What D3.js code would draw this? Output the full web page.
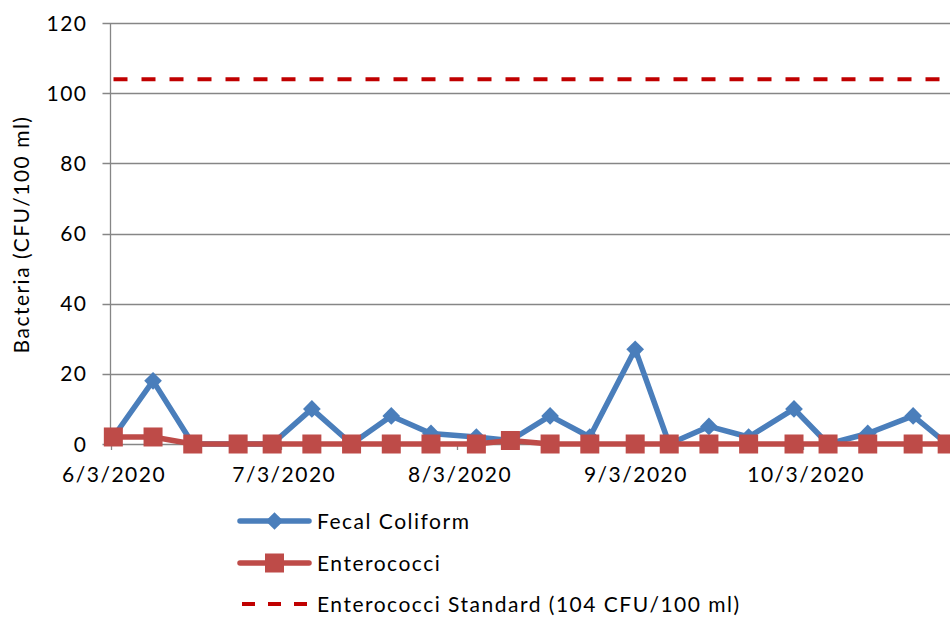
<!DOCTYPE html>
<html>
<head>
<meta charset="utf-8">
<script src="https://cdn.jsdelivr.net/npm/d3@7"></script>
<style>
  html, body { margin: 0; padding: 0; background: #fff; }
  svg text { font-family: Lato, "Open Sans", sans-serif; fill: #000; }
</style>
</head>
<body>
<svg id="chart" width="950" height="620"></svg>
<script>
// ---- data ----
const sampleDates = ["6/3/2020","6/10/2020","6/17/2020","6/25/2020","7/1/2020","7/8/2020","7/15/2020","7/22/2020","7/29/2020","8/6/2020","8/12/2020","8/19/2020","8/26/2020","9/3/2020","9/9/2020","9/16/2020","9/23/2020","10/1/2020","10/7/2020","10/14/2020","10/22/2020","10/28/2020"];
const fecalColiform = [2,18,0,0,0,10,0,8,3,2,1,8,2,27,0,5,2,10,0,3,8,0];
const enterococci   = [2,2,0,0,0,0,0,0,0,0,1,0,0,0,0,0,0,0,0,0,0,0];
const standardValue = 104;
const xTickLabels = ["6/3/2020","7/3/2020","8/3/2020","9/3/2020","10/3/2020"];
const yTicks = [0,20,40,60,80,100,120];
const axisStart = "6/3/2020";
const axisEnd = "10/29/2020";
const seriesNames = ["Fecal Coliform","Enterococci","Enterococci Standard (104 CFU/100 ml)"];
const yTitle = "Bacteria (CFU/100 ml)";

(function () {
// ---- setup ----
const parse = d3.timeParse("%m/%d/%Y");
const halfDay = d => d3.timeHour.offset(d, 12);
const svg = d3.select("#chart");
const pLeft = 110.5, pRight = 950, pTop = 23, pBottom = 444;
const LS = 1.5;

const x = d3.scaleTime().domain([parse(axisStart), parse(axisEnd)]).range([pLeft, pRight]);
const y = d3.scaleLinear().domain([0, 120]).range([pBottom, pTop]);

const gridColor = "#868686";

// gridlines
svg.append("g").selectAll("line").data(yTicks).join("line")
  .attr("x1", pLeft - 8).attr("x2", pRight)
  .attr("y1", d => Math.round(y(d)) + 0.5).attr("y2", d => Math.round(y(d)) + 0.5)
  .attr("stroke", gridColor).attr("stroke-width", 1.3);

// y axis line
svg.append("line").attr("x1", pLeft).attr("x2", pLeft).attr("y1", y(120)).attr("y2", y(0) + 0.5)
  .attr("stroke", gridColor).attr("stroke-width", 1.3);

// y labels
svg.append("g").selectAll("text").data(yTicks).join("text")
  .attr("x", 86 + LS).attr("y", d => y(d)).attr("dy", "0.36em")
  .attr("text-anchor", "end").attr("font-size", 21).attr("letter-spacing", LS).text(d => d);

// x tick marks
const tickDates = xTickLabels.map(parse);
svg.append("g").selectAll("line").data(tickDates).join("line")
  .attr("x1", d => Math.round(x(d)) + 0.5).attr("x2", d => Math.round(x(d)) + 0.5)
  .attr("y1", y(0)).attr("y2", y(0) + 6)
  .attr("stroke", gridColor).attr("stroke-width", 1.3);

// x labels
svg.append("g").selectAll("text").data(xTickLabels).join("text")
  .attr("x", d => x(halfDay(parse(d))) + LS / 2).attr("y", 482)
  .attr("text-anchor", "middle").attr("font-size", 21).attr("letter-spacing", LS).text(d => d);

// y title
svg.append("text")
  .attr("transform", `translate(29, ${(pTop + pBottom) / 2 + 1}) rotate(-90)`)
  .attr("text-anchor", "middle").attr("font-size", 21).attr("letter-spacing", LS).text(yTitle);

const blue = "#4A7EBB", red = "#BE4B48", dark = "#C00000";
const fcData = sampleDates.map((d, i) => ({ date: halfDay(parse(d)), v: fecalColiform[i] }));
const enData = sampleDates.map((d, i) => ({ date: halfDay(parse(d)), v: enterococci[i] }));
const line = d3.line().x(d => x(d.date)).y(d => y(d.v));

// Fecal coliform
svg.append("path").datum(fcData).attr("d", line)
  .attr("fill", "none").attr("stroke", blue).attr("stroke-width", 5.5).attr("stroke-linejoin", "round");
const diamond = d3.symbol().type(d3.symbolDiamond2).size(200);
svg.append("g").selectAll("path").data(fcData).join("path")
  .attr("transform", d => `translate(${x(d.date)},${y(d.v)})`)
  .attr("d", diamond).attr("fill", blue);

// Enterococci
svg.append("path").datum(enData).attr("d", line)
  .attr("fill", "none").attr("stroke", red).attr("stroke-width", 5.5).attr("stroke-linejoin", "round");
svg.append("g").selectAll("rect").data(enData).join("rect")
  .attr("x", d => x(d.date) - 9.5).attr("y", d => y(d.v) - 9.5)
  .attr("width", 19).attr("height", 19).attr("fill", red);

// Standard line
svg.append("line")
  .attr("x1", x(parse(axisStart)) + 3).attr("x2", pRight)
  .attr("y1", y(standardValue)).attr("y2", y(standardValue))
  .attr("stroke", dark).attr("stroke-width", 4).attr("stroke-dasharray", "14,14");

// Legend
const legY = [521, 563, 604];
const lx1 = 240, lx2 = 309;
const leg = svg.append("g");
leg.append("line").attr("x1", lx1).attr("x2", lx2).attr("y1", legY[0]).attr("y2", legY[0])
  .attr("stroke", blue).attr("stroke-width", 5.5).attr("stroke-linecap", "round");
leg.append("path").attr("transform", `translate(${(lx1 + lx2) / 2},${legY[0]})`).attr("d", diamond).attr("fill", blue);
leg.append("line").attr("x1", lx1).attr("x2", lx2).attr("y1", legY[1]).attr("y2", legY[1])
  .attr("stroke", red).attr("stroke-width", 5.5).attr("stroke-linecap", "round");
leg.append("rect").attr("x", (lx1 + lx2) / 2 - 9.5).attr("y", legY[1] - 9.5).attr("width", 19).attr("height", 19).attr("fill", red);
leg.append("line").attr("x1", lx1 + 2).attr("x2", lx2).attr("y1", legY[2]).attr("y2", legY[2])
  .attr("stroke", dark).attr("stroke-width", 4).attr("stroke-dasharray", "13,13");
leg.selectAll("text").data(seriesNames).join("text")
  .attr("x", 317).attr("y", (d, i) => legY[i]).attr("dy", "0.36em")
  .attr("font-size", 21).attr("letter-spacing", LS).text(d => d);
})();
</script>
</body>
</html>
